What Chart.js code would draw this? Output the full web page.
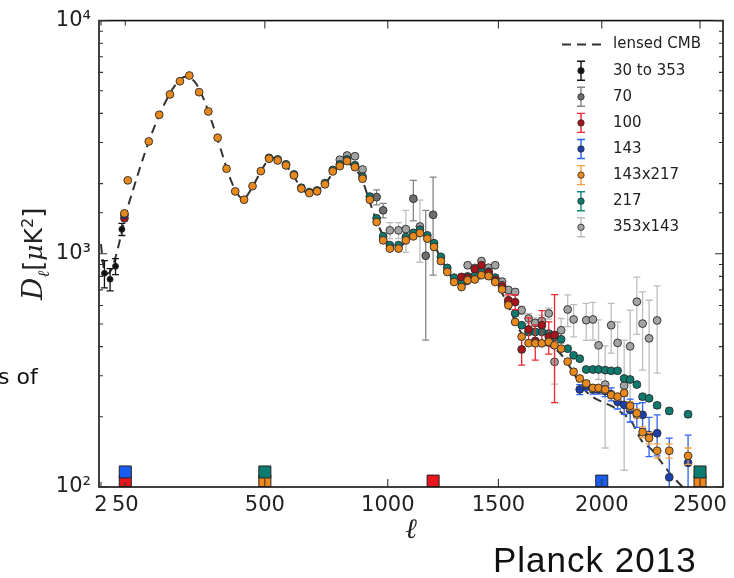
<!DOCTYPE html>
<html>
<head>
<meta charset="utf-8">
<script src="https://cdn.jsdelivr.net/npm/chart.js@4.4.1/dist/chart.umd.min.js"></script>
<style>
  body { margin: 0; background: #fff; }
  #wrap { position: relative; width: 734px; height: 578px; overflow: hidden; }
  .note { position: absolute; white-space: nowrap; color: #111; }
</style>
</head>
<body>
<div id="wrap">
  <canvas id="cmb" width="734" height="578"></canvas>
  <div class="note" style="left:-2px;top:366px;font:22px/22px 'DejaVu Sans';">s of</div>
  <div class="note" style="left:493px;top:542px;font:35px/35px 'Liberation Sans',Arial;letter-spacing:1px;">Planck 2013</div>
</div>
<script>
// x axis goes like l^0.8 (squeezed low l, as in the Planck 2013 plot)
var xPow = 0.8;
var xTicks = [2, 50, 500, 1000, 1500, 2000, 2500];
var yLabels = { 2: '10²', 3: '10³', 4: '10⁴' };

// lensed CMB model (dashed)
var ellLensed = [2, 5, 10, 20, 30, 40, 50, 70, 100, 130, 160, 190, 220, 250, 280, 310, 340, 370, 400, 420,
  450, 480, 510, 540, 570, 600, 640, 670, 700, 740, 780, 815, 850, 890, 920, 960, 1000, 1050, 1100, 1150,
  1200, 1250, 1300, 1350, 1400, 1450, 1500, 1550, 1600, 1650, 1700, 1750, 1800, 1850, 1900, 1950, 2000, 2050, 2100, 2150,
  2200, 2250, 2300, 2350, 2400, 2450, 2500];
var dLensed = [1100, 900, 820, 860, 1000, 1200, 1450, 1900, 2700, 3600, 4500, 5300, 5750, 5500, 4650, 3650, 2800, 2150, 1800, 1720,
  1900, 2200, 2500, 2580, 2450, 2250, 1920, 1820, 1850, 2020, 2300, 2450, 2380, 2080, 1700, 1320, 1120, 1080, 1170, 1200,
  1100, 900, 760, 740, 780, 790, 720, 590, 470, 420, 410, 400, 370, 320, 270, 245, 232, 222, 208, 190,
  158, 145, 128, 113, 102, 92, 85];

// 30 to 353 (low l)
var ellLowL = [7, 17, 28, 42];
var dLowL = [825, 778, 884, 1274];
var errLowL = [110, 85, 70, 76];

// 143x217
var ell143x217 = [48, 56, 111, 141, 173, 204, 234, 266, 297, 329, 360, 391, 423, 454, 485, 516, 549, 581, 612, 641,
  673, 704, 736, 768, 797, 827, 860, 892, 923, 952, 980, 1009, 1047, 1079, 1112, 1141, 1174, 1204, 1235, 1264,
  1295, 1329, 1357, 1390, 1421, 1454, 1485, 1517, 1547, 1579, 1610, 1643, 1675, 1707, 1740, 1768, 1800, 1832, 1861, 1891,
  1923, 1956, 1984, 2017, 2047, 2079, 2112, 2142, 2176, 2205, 2238, 2279, 2341, 2438];
var d143x217 = [1491, 2065, 3033, 3945, 4822, 5495, 5815, 4932, 4077, 3146, 2317, 1852, 1706, 1951, 2262, 2557, 2514, 2393, 2169, 1903,
  1821, 1852, 1985, 2256, 2377, 2497, 2353, 2099, 1706, 1368, 1142, 1053, 1053, 1142, 1188, 1228, 1161, 1070, 931, 836,
  757, 720, 770, 776, 810, 802, 757, 703, 602, 510, 441, 414, 413, 413, 419, 405, 392, 345, 312, 292,
  278, 266, 266, 262, 248, 244, 253, 223, 207, 172, 162, 143, 143, 136];
var err143x217 = [0, 0, 0, 0, 0, 0, 0, 0, 0, 0, 0, 0, 0, 0, 0, 0, 0, 0, 0, 0,
  0, 0, 0, 0, 0, 0, 0, 0, 0, 0, 0, 0, 0, 0, 0, 0, 0, 0, 0, 0,
  0, 0, 0, 0, 0, 0, 0, 0, 0, 0, 0, 0, 0, 0, 0, 0, 0, 8, 8, 8,
  8, 8, 8, 8, 8, 8, 8, 9, 9, 9, 9, 10, 10, 11];

// 217
var ell217 = [516, 549, 581, 612, 641, 673, 704, 736, 768, 797, 827, 860, 892, 923, 952, 980, 1009, 1047, 1079, 1112,
  1141, 1174, 1204, 1235, 1264, 1295, 1329, 1357, 1390, 1421, 1454, 1485, 1517, 1547, 1579, 1610, 1643, 1675, 1707, 1740,
  1768, 1800, 1832, 1861, 1891, 1923, 1956, 1984, 2017, 2047, 2079, 2112, 2142, 2176, 2205, 2238, 2279, 2341, 2438];
var d217 = [2580, 2540, 2420, 2190, 1920, 1840, 1870, 2010, 2290, 2420, 2540, 2400, 2140, 1760, 1420, 1190, 1090, 1090, 1180, 1230,
  1270, 1200, 1110, 970, 870, 790, 752, 800, 806, 845, 838, 790, 733, 621, 555, 494, 462, 462, 462, 455,
  440, 430, 392, 367, 355, 319, 319, 319, 317, 315, 315, 292, 289, 275, 244, 240, 224, 212, 205];
var err217 = [0, 0, 0, 0, 0, 0, 0, 0, 0, 0, 0, 0, 0, 0, 0, 0, 0, 0, 0, 0,
  0, 0, 0, 0, 0, 0, 0, 0, 0, 0, 0, 0, 10, 9, 8, 7, 7, 7, 7, 7,
  7, 7, 7, 7, 7, 6, 6, 6, 6, 6, 6, 6, 6, 6, 6, 6, 6, 6, 6];

// 100
var ell100 = [48, 1329, 1357, 1390, 1421, 1454, 1485, 1517, 1547, 1579, 1610, 1643, 1675, 1707, 1740, 1768];
var d100 = [1420, 796, 790, 860, 893, 830, 770, 721, 632, 621, 389, 474, 423, 494, 441, 449];
var err100 = [0, 20, 20, 22, 25, 25, 25, 30, 35, 45, 56, 57, 73, 77, 70, 219];

// 143
var ell143 = [48, 1891, 1923, 1956, 1984, 2017, 2047, 2079, 2112, 2142, 2176, 2205, 2238, 2279, 2341, 2438];
var d143 = [1470, 262, 272, 262, 262, 258, 250, 232, 225, 214, 204, 204, 167, 170, 110, 127];
var err143 = [0, 13, 12, 12, 12, 14, 16, 16, 20, 24, 24, 26, 32, 34, 52, 40];

// 70
var ell70 = [952, 980, 1112, 1167, 1200];
var d70 = [1750, 1536, 1724, 981, 1470];
var err70 = [130, 110, 340, 555, 660];

// 353x143
var ell353 = [797, 827, 860, 892, 1009, 1047, 1079, 1141, 1357, 1390, 1421, 1454, 1485, 1517, 1547, 1579,
  1610, 1643, 1675, 1707, 1740, 1768, 1800, 1832, 1861, 1923, 1956, 1984, 2017, 2047, 2079, 2112,
  2142, 2176, 2205, 2238, 2279];
var d353 = [2530, 2640, 2620, 2300, 1261, 1261, 1275, 1310, 893, 870, 931, 872, 893, 760, 700, 686,
  573, 528, 505, 515, 555, 344, 470, 577, 523, 519, 523, 405, 275, 494, 415, 272,
  401, 623, 502, 434, 518];
var err353 = [40, 40, 40, 40, 100, 100, 260, 390, 20, 20, 20, 20, 20, 20, 20, 20,
  23, 26, 26, 30, 30, 68, 58, 90, 83, 94, 96, 116, 128, 119, 95, 154,
  172, 172, 185, 198, 210];

// l-range markers along the bottom
var limitEll = [50, 500, 1200, 2000, 2500];
var limitLowD = [106, 106, 106, 106, 106];
var limitLowColor = ['#e8161e', '#f0871a', '#e8161e', '#1b5cf0', '#f0871a'];
var limitTopEll = [50, 500, 2500];
var limitTopD = [116, 116, 116];
var limitTopColor = ['#1b5cf0', '#0d7c70', '#0d7c70'];

function points(ell, d, err) {
  return ell.map(function (l, i) { return { x: l, y: d[i], e: err ? err[i] : 0 }; });
}
function isDecade(v) {
  var e = Math.log10(v);
  return Math.abs(e - Math.round(e)) < 1e-9 ? Math.round(e) : null;
}

class PowerScale extends Chart.LinearScale {
  buildTicks() {
    return xTicks.map(function (v) { return { value: v }; });
  }
  getPixelForValue(value) {
    if (value === null || value === undefined) return NaN;
    var a = Math.pow(this.min, xPow), b = Math.pow(this.max, xPow);
    return this.getPixelForDecimal((Math.pow(value, xPow) - a) / (b - a));
  }
  getValueForPixel(pixel) {
    var a = Math.pow(this.min, xPow), b = Math.pow(this.max, xPow);
    return Math.pow(a + this.getDecimalForPixel(pixel) * (b - a), 1 / xPow);
  }
}
PowerScale.id = 'power';
PowerScale.defaults = Chart.LinearScale.defaults;
Chart.register(PowerScale);

var series = [
  { label: '30 to 353', ell: ellLowL, d: dLowL, err: errLowL, fill: '#111111', bar: '#111111', r: 3, order: 2 },
  { label: '70', ell: ell70, d: d70, err: err70, fill: '#6e6e6e', bar: '#858585', r: 3.9, order: 7 },
  { label: '100', ell: ell100, d: d100, err: err100, fill: '#a8141c', bar: '#f0262e', r: 3.9, order: 5 },
  { label: '143', ell: ell143, d: d143, err: err143, fill: '#1c3fae', bar: '#2a62f2', r: 3.9, order: 4 },
  { label: '143x217', ell: ell143x217, d: d143x217, err: err143x217, fill: '#e8891e', bar: '#f4a040', r: 3.9, order: 3 },
  { label: '217', ell: ell217, d: d217, err: err217, fill: '#0e7a6e', bar: '#128a7c', r: 3.9, order: 6 },
  { label: '353x143', ell: ell353, d: d353, err: err353, fill: '#a3a3a3', bar: '#bdbdbd', r: 3.9, order: 8 }
];

var datasets = [{
  label: 'lensed CMB',
  data: points(ellLensed, dLensed),
  showLine: true,
  borderColor: '#333',
  borderWidth: 2,
  borderDash: [9, 6],
  pointRadius: 0,
  cubicInterpolationMode: 'monotone',
  order: 20
}];
series.forEach(function (s) {
  datasets.push({
    label: s.label,
    data: points(s.ell, s.d, s.err),
    backgroundColor: s.fill,
    borderColor: '#2a2a2a',
    borderWidth: 0.9,
    pointRadius: s.r,
    barColor: s.bar,
    inLegend: true,
    order: s.order
  });
});
datasets.push({
  data: points(limitEll, limitLowD),
  pointStyle: 'rect', pointRadius: 8.5,
  backgroundColor: limitLowColor, borderColor: '#222', borderWidth: 1, order: 1
});
datasets.push({
  data: points(limitTopEll, limitTopD),
  pointStyle: 'rect', pointRadius: 8.5,
  backgroundColor: limitTopColor, borderColor: '#222', borderWidth: 1, order: 0
});

var errorBars = {
  id: 'errorBars',
  beforeDatasetDraw: function (chart, args) {
    var ds = chart.data.datasets[args.index];
    if (!ds.barColor) return;
    var ctx = chart.ctx, a = chart.chartArea, ys = chart.scales.y;
    ctx.save();
    ctx.beginPath();
    ctx.rect(a.left, a.top, a.right - a.left, a.bottom - a.top);
    ctx.clip();
    ctx.strokeStyle = ds.barColor;
    ctx.lineWidth = 1.3;
    args.meta.data.forEach(function (el, i) {
      var p = ds.data[i];
      if (!p.e) return;
      var top = ys.getPixelForValue(p.y + p.e);
      var bot = ys.getPixelForValue(Math.max(p.y - p.e, 1));
      ctx.beginPath();
      ctx.moveTo(el.x, top); ctx.lineTo(el.x, bot);
      ctx.moveTo(el.x - 3.5, top); ctx.lineTo(el.x + 3.5, top);
      ctx.moveTo(el.x - 3.5, bot); ctx.lineTo(el.x + 3.5, bot);
      ctx.stroke();
    });
    ctx.restore();
  }
};

// box around the plot with inward ticks on all four sides
var frame = {
  id: 'frame',
  afterDatasetsDraw: function (chart) {
    var ctx = chart.ctx, a = chart.chartArea, xs = chart.scales.x, ys = chart.scales.y;
    ctx.save();
    ctx.strokeStyle = '#111';
    ctx.lineWidth = 1.6;
    ctx.strokeRect(a.left, a.top, a.right - a.left, a.bottom - a.top);
    ctx.lineWidth = 1.1;
    ctx.strokeStyle = '#333';
    ctx.beginPath();
    xTicks.forEach(function (v) {
      var px = xs.getPixelForValue(v);
      var len = v < 100 ? 5 : 8;
      ctx.moveTo(px, a.bottom); ctx.lineTo(px, a.bottom - len);
      ctx.moveTo(px, a.top); ctx.lineTo(px, a.top + len);
    });
    ys.ticks.forEach(function (t) {
      var py = ys.getPixelForValue(t.value);
      var len = isDecade(t.value) !== null ? 8 : 4;
      ctx.moveTo(a.left, py); ctx.lineTo(a.left + len, py);
      ctx.moveTo(a.right, py); ctx.lineTo(a.right - len, py);
    });
    ctx.stroke();
    ctx.restore();
  }
};

var yTitle = {
  id: 'yTitle',
  afterDraw: function (chart) {
    var ctx = chart.ctx, a = chart.chartArea;
    var parts = [
      { t: 'D', f: 'italic 28px "DejaVu Serif"', dy: 0 },
      { t: 'ℓ', f: 'italic 16px "DejaVu Serif"', dy: 7 },
      { t: '[', f: '26px "DejaVu Sans"', dy: 0 },
      { t: 'μ', f: 'italic 25px "DejaVu Serif"', dy: 0 },
      { t: 'K', f: '25px "DejaVu Sans"', dy: 0 },
      { t: '2', f: '16px "DejaVu Sans"', dy: -9 },
      { t: ']', f: '26px "DejaVu Sans"', dy: 0 }
    ];
    ctx.save();
    var total = 0;
    parts.forEach(function (p) { ctx.font = p.f; p.w = ctx.measureText(p.t).width; total += p.w; });
    ctx.translate(33, (a.top + a.bottom) / 2);
    ctx.rotate(-Math.PI / 2);
    ctx.fillStyle = '#222';
    ctx.textBaseline = 'alphabetic';
    var x = -total / 2;
    parts.forEach(function (p) {
      ctx.font = p.f;
      ctx.fillText(p.t, x, 9 + p.dy);
      x += p.w;
    });
    ctx.restore();
  }
};

var legendBox = {
  id: 'legendBox',
  afterDraw: function (chart) {
    var ctx = chart.ctx, a = chart.chartArea;
    var symX = a.right - 142, textX = a.right - 110, y = a.top + 24, step = 26.1;
    ctx.save();
    ctx.font = '15px "DejaVu Sans"';
    ctx.textBaseline = 'middle';
    ctx.strokeStyle = '#333';
    ctx.lineWidth = 2;
    ctx.setLineDash([9, 6]);
    ctx.beginPath();
    ctx.moveTo(symX - 19, y); ctx.lineTo(symX + 21, y);
    ctx.stroke();
    ctx.setLineDash([]);
    ctx.fillStyle = '#222';
    ctx.fillText('lensed CMB', textX, y);
    chart.data.datasets.forEach(function (ds) {
      if (!ds.inLegend) return;
      y += step;
      ctx.strokeStyle = ds.barColor;
      ctx.lineWidth = 1.4;
      ctx.beginPath();
      ctx.moveTo(symX, y - 9.5); ctx.lineTo(symX, y + 9.5);
      ctx.moveTo(symX - 4, y - 9.5); ctx.lineTo(symX + 4, y - 9.5);
      ctx.moveTo(symX - 4, y + 9.5); ctx.lineTo(symX + 4, y + 9.5);
      ctx.stroke();
      ctx.beginPath();
      ctx.arc(symX, y, 3.2, 0, Math.PI * 2);
      ctx.fillStyle = ds.backgroundColor;
      ctx.fill();
      ctx.lineWidth = 0.8;
      ctx.strokeStyle = '#2a2a2a';
      ctx.stroke();
      ctx.fillStyle = '#222';
      ctx.fillText(ds.label, textX, y);
    });
    ctx.restore();
  }
};

Chart.defaults.font.family = '"DejaVu Sans", sans-serif';

new Chart(document.getElementById('cmb'), {
  type: 'scatter',
  data: { datasets: datasets },
  options: {
    responsive: false,
    animation: false,
    devicePixelRatio: 1,
    layout: { padding: { top: 20, right: 11, left: 0, bottom: 0 } },
    plugins: { legend: { display: false }, tooltip: { enabled: false } },
    scales: {
      x: {
        type: 'power',
        min: 0,
        max: 2620,
        grid: { display: false, drawTicks: false },
        border: { display: false },
        ticks: {
          autoSkip: false, maxRotation: 0, padding: 6, color: '#222',
          font: { size: 21 },
          callback: function (v) { return String(v); }
        },
        title: {
          display: true, text: 'ℓ', color: '#222',
          font: { family: '"DejaVu Serif"', style: 'italic', size: 28 },
          padding: { top: 0, bottom: 30 }
        },
        afterFit: function (s) { s.height = 91; }
      },
      y: {
        type: 'logarithmic',
        min: 100,
        max: 10000,
        grid: { display: false, drawTicks: false },
        border: { display: false },
        ticks: {
          autoSkip: false, padding: 8, color: '#222',
          font: { size: 21 },
          callback: function (v) { var e = isDecade(v); return e !== null ? yLabels[e] : ''; }
        },
        afterFit: function (s) { s.width = 99; }
      }
    }
  },
  plugins: [errorBars, frame, yTitle, legendBox]
});
</script>
</body>
</html>
